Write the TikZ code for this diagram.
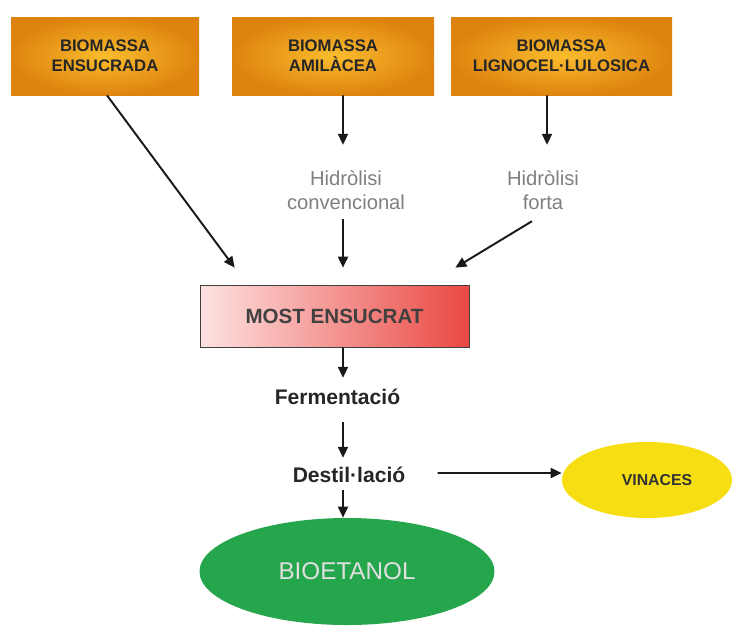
\documentclass[tikz,border=0pt]{standalone}
\usepackage{fontspec}
\setmainfont{Liberation Sans}
\usepackage{xcolor}
\usetikzlibrary{positioning,arrows.meta,shapes.geometric}
\definecolor{bioorange}{RGB}{250,188,46}
\definecolor{biodark}{RGB}{222,132,14}
\definecolor{mostred}{RGB}{234,72,66}
\definecolor{mostpink}{RGB}{253,226,226}
\definecolor{etgreen}{RGB}{38,166,76}
\definecolor{vinyellow}{RGB}{247,222,18}
\tikzset{bio node/.style={rectangle,minimum width=#1,minimum height=1.56cm,inner color=bioorange,outer color=biodark,font=\fontsize{9.5}{11.5}\selectfont\bfseries,text=black!85,align=center},
main node/.style={rectangle,draw=black!75,minimum width=5.38cm,minimum height=1.24cm,left color=mostpink,right color=mostred,font=\fontsize{11.7}{14}\selectfont\bfseries,text=black!75},
hyd node/.style={align=center,inner sep=0pt,font=\fontsize{11.5}{14}\selectfont,text=black!50},
proc node/.style={inner sep=0pt,font=\fontsize{12}{14}\selectfont\bfseries,text=black!85},
arr/.style={draw,-{Triangle[length=2.2mm,width=2mm]},line width=1.1pt,black!90},}
\begin{document}
\begin{tikzpicture}
    \useasboundingbox[fill=white] (0,0) rectangle (14.64,-12.52);
    \node[bio node=3.76cm] (b1) at (2.10,-1.12) {BIOMASSA\\ENSUCRADA};
    \node[bio node=4.04cm] (b2) at (6.66,-1.12) {BIOMASSA\\AMILÀCEA};
    \node[bio node=4.42cm] (b3) at (11.23,-1.12) {BIOMASSA\\LIGNOCEL·LULOSICA};

    \node[hyd node] (hc) at (6.92,-3.80) {Hidròlisi\\convencional};
    \node[hyd node] (hf) at (10.86,-3.80) {Hidròlisi\\forta};

    \node[main node] (most) at (6.69,-6.32) {MOST ENSUCRAT};

    \node[proc node] (ferm) at (6.75,-7.94) {Fermentació};
    \node[proc node] (dest) at (6.98,-9.50) {Destil·lació};

    \node[ellipse,fill=vinyellow,minimum width=3.4cm,minimum height=1.52cm,font=\fontsize{9}{11}\selectfont\bfseries,text=black!80] (vin) at (12.94,-9.60) {\hspace{.4cm}VINACES};
    \node[ellipse,fill=etgreen,minimum width=5.9cm,minimum height=2.14cm,font=\fontsize{13.8}{16}\selectfont,text=white!88!black] (etoh) at (6.94,-11.43) {BIOETANOL};

    \path
    ([xshift=.04cm]b1.south) edge[arr] ([xshift=.7cm,yshift=.34cm]most.north west)
    ([xshift=.2cm]b2.south) edge[arr] ([xshift=-.06cm,yshift=.5cm]hc.north)
    ([xshift=-.29cm]b3.south) edge[arr] ([xshift=.08cm,yshift=.5cm]hf.north)
    ([xshift=-.06cm,yshift=-.18cm]hc.south) edge[arr] ([xshift=.17cm,yshift=.34cm]most.north)
    ([xshift=-.22cm,yshift=-.22cm]hf.south) edge[arr] ([xshift=-.28cm,yshift=.34cm]most.north east)
    ([xshift=.17cm]most.south) edge[arr] ([xshift=.11cm,yshift=.22cm]ferm.north)
    ([xshift=.11cm,yshift=-.34cm]ferm.south) edge[arr] ([xshift=-.12cm,yshift=.18cm]dest.north)
    ([xshift=-.12cm,yshift=-.14cm]dest.south) edge[arr] ([xshift=-.08cm]etoh.north)
    ([xshift=.64cm,yshift=.04cm]dest.east) edge[arr] ([yshift=.14cm]vin.west)
    ;
\end{tikzpicture}
\end{document}
